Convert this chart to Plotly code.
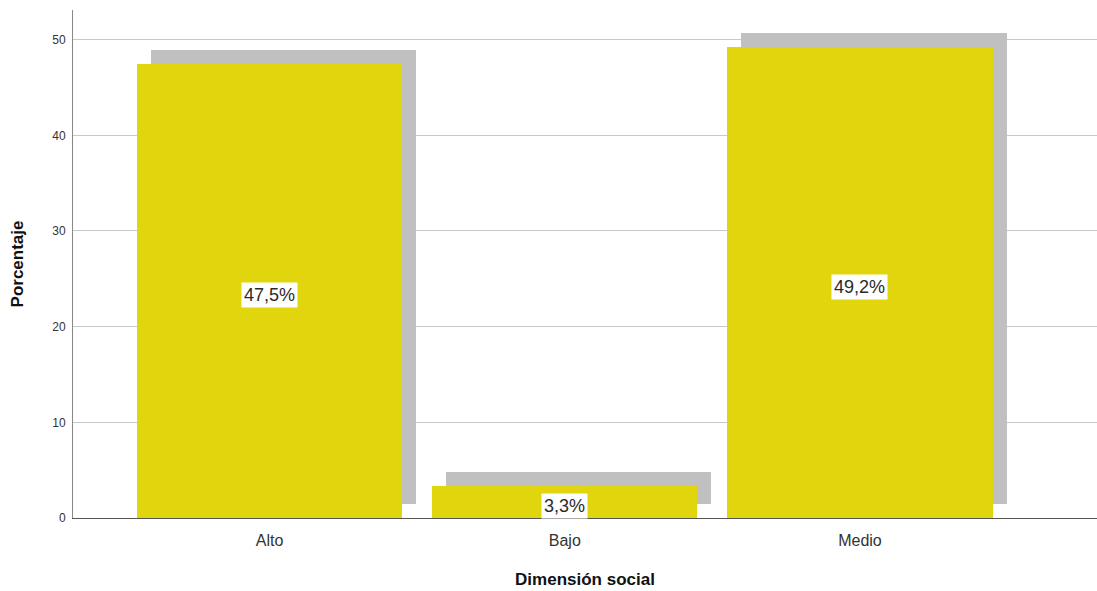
import plotly.graph_objects as go

# Distribución de la dimensión social
categorias = ["Alto", "Bajo", "Medio"]
porcentajes = [47.5, 3.3, 49.2]
etiquetas = ["47,5%", "3,3%", "49,2%"]
ticks_y = [0, 10, 20, 30, 40, 50]

posiciones = list(range(len(categorias)))
ancho = 0.898
desfase_x = 0.0475   # sombra desplazada a la derecha
desfase_y = 1.46     # sombra desplazada hacia arriba

fig = go.Figure()

# sombra gris detrás de cada barra
fig.add_trace(go.Bar(
    x=[p + desfase_x for p in posiciones],
    y=porcentajes,
    base=[desfase_y] * len(porcentajes),
    width=ancho,
    marker=dict(color="#C0C0C0", line=dict(width=0)),
    hoverinfo="skip",
    showlegend=False,
))

# barras principales
fig.add_trace(go.Bar(
    x=posiciones,
    y=porcentajes,
    width=ancho,
    marker=dict(color="#E1D60E", line=dict(width=0)),
    showlegend=False,
))

# etiquetas de valor en caja blanca, a media altura de la barra
for p, v, t in zip(posiciones, porcentajes, etiquetas):
    fig.add_annotation(
        x=p, y=v / 2, text=t, showarrow=False,
        bgcolor="white", borderpad=2, yshift=-4,
        font=dict(family="Liberation Sans, Arial, sans-serif", size=18, color="#2a2a2a"),
    )

fig.update_layout(
    width=1097, height=591,
    margin=dict(l=73, r=0, t=10, b=73),
    paper_bgcolor="white", plot_bgcolor="white",
    barmode="overlay",
    bargap=0,
    font=dict(family="Liberation Sans, Arial, sans-serif", color="#222222"),
)

fig.update_xaxes(
    range=[-0.666, 2.803],
    tickvals=posiciones, ticktext=categorias,
    tickfont=dict(size=16, color="#333333"),
    ticklabelstandoff=8,
    showgrid=False, zeroline=False,
    showline=True, linecolor="#555555", linewidth=1,
    ticks="", ticklen=0,
    title=dict(text="<b>Dimensión social</b>", font=dict(size=17, color="#111111"), standoff=24),
)

fig.update_yaxes(
    range=[0, 53.1],
    tickvals=ticks_y,
    tickfont=dict(size=12, color="#333333"),
    ticklabelstandoff=4,
    showgrid=True, gridcolor="#C8C8C8", gridwidth=1,
    zeroline=False,
    showline=True, linecolor="#888888", linewidth=1,
    ticks="", ticklen=0,
    title=dict(text="<b>Porcentaje</b>", font=dict(size=17, color="#111111"), standoff=24),
)

fig.write_html("out.html")
